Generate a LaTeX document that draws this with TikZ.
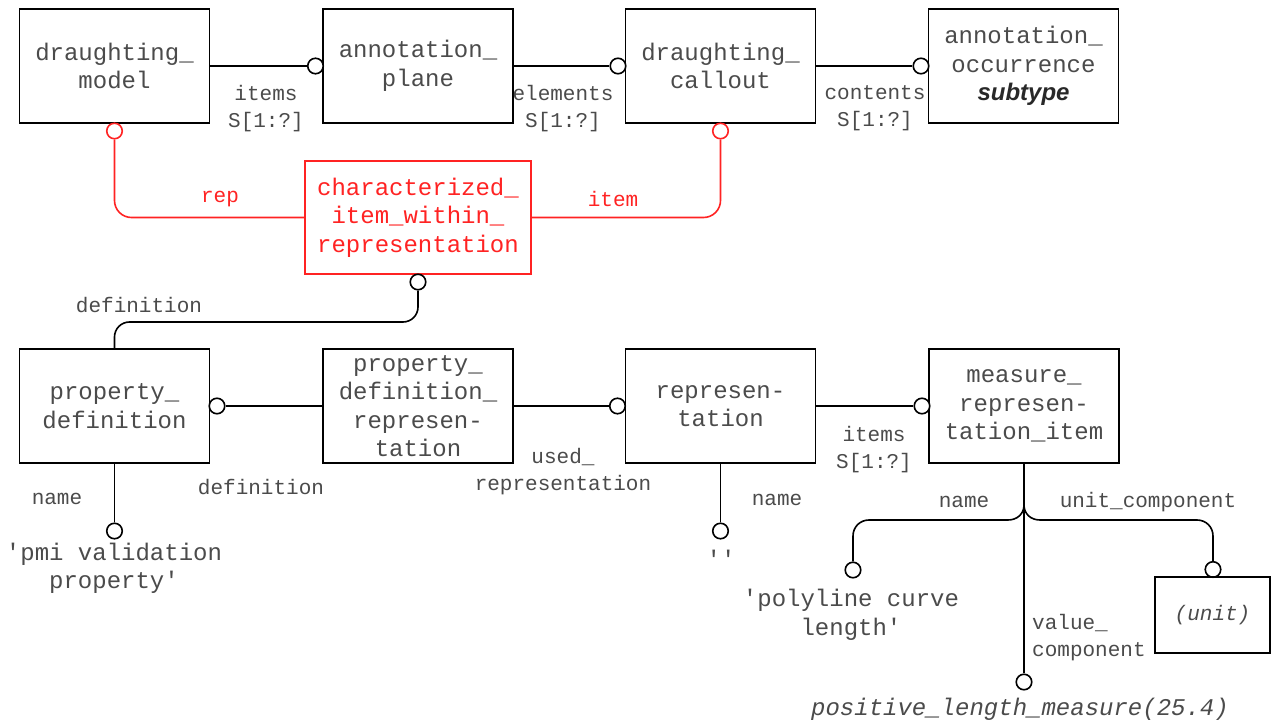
\documentclass[tikz,border=0pt]{standalone}
\usepackage{fontspec}
\setmonofont{Liberation Mono}
\newfontfamily\sansbi{Liberation Sans}
\definecolor{erred}{RGB}{255,35,35}
\definecolor{txt}{RGB}{75,75,75}
\definecolor{subc}{RGB}{40,40,40}
\newcommand\boxfont{\ttfamily\fontsize{24}{28.5}\selectfont}
\newcommand\lblfont{\ttfamily\fontsize{21}{27}\selectfont}
\newcommand\valfont{\ttfamily\fontsize{24}{28.5}\selectfont}
\tikzset{
  ent/.style={draw=black, line width=1.6pt, minimum width=190pt, minimum height=114pt, inner sep=0pt, align=center, text=txt, font=\boxfont},
  ring/.style={circle, draw, line width=1.6pt, fill=white, minimum size=15.5pt, inner sep=0pt},
  lnk/.style={line width=1.6pt},
  lbl/.style={align=center, text=txt, font=\lblfont, inner sep=0pt},
  val/.style={align=center, text=txt, font=\valfont, inner sep=0pt},
}
\begin{document}
\begin{tikzpicture}[x=1pt,y=-1pt]
\useasboundingbox[fill=white] (0,0) rectangle (1272,722);
% top row
\node[ent] (dm) at (114.5,66) {draughting\_\\model};
\node[ent] (ap) at (418,66) {annotation\_\\plane};
\node[ent] (dc) at (720.5,66) {draughting\_\\callout};
\node[ent] (ao) at (1023.5,66) {annotation\_\\occurrence\\{\sansbi\bfseries\itshape\color{subc}subtype}};
\node[ring] (r1) at (315.5,66) {};
\node[ring] (r2) at (618,66) {};
\node[ring] (r3) at (921,66) {};
\draw[lnk] (dm.east) -- (r1);
\draw[lnk] (ap.east) -- (r2);
\draw[lnk] (dc.east) -- (r3);
\node[lbl] (l1) at (266,108.5) {items\\S[1:?]};
\node[lbl] (l2) at (563,108.5) {elements\\S[1:?]};
\node[lbl] (l3) at (875,108.5) {contents\\S[1:?]};
% red
\node[ring, draw=erred] (rdm) at (114.5,131) {};
\node[ring, draw=erred] (rdc) at (720.5,131) {};
\node[ent, draw=erred, text=erred, line width=1.3pt, minimum width=226pt, minimum height=113pt] (cir) at (418,217.5) {characterized\_\\item\_within\_\\representation};
\draw[lnk, erred, rounded corners=17pt] (rdm) |- (cir.west);
\draw[lnk, erred, rounded corners=17pt] (cir.east) -| (rdc);
\node[lbl, text=erred] (lrep) at (220,199) {rep};
\node[lbl, text=erred] (litem) at (613,199) {item};
% bottom row
\node[ent] (pd) at (114.5,406) {property\_\\definition};
\node[ent] (pdr) at (418,406) {property\_\\definition\_\\represen-\\tation};
\node[ent] (rep) at (720.5,406) {represen-\\tation};
\node[ent] (mri) at (1024,406) {measure\_\\represen-\\tation\_item};
\node[ring] (rcir) at (418,282) {};
\coordinate (dj) at (266,322);
\draw[lnk, rounded corners=15pt] (rcir) |- (dj) -| (pd.north);
\node[lbl] (ldef) at (139,305) {definition};
\node[ring] (rpd) at (217,406) {};
\node[ring] (rrep) at (617.5,406) {};
\node[ring] (rmri) at (922,406) {};
\draw[lnk] (rpd) -- (pdr.west);
\draw[lnk] (pdr.east) -- (rrep);
\draw[lnk] (rep.east) -- (rmri);
\node[lbl] (ldef2) at (261,487) {definition};
\node[lbl] (lused) at (563,471.5) {used\_\\representation};
\node[lbl] (litems2) at (874,449.5) {items\\S[1:?]};
% names
\node[ring] (rpdn) at (114.5,531) {};
\draw[lnk] (pd.south) -- (rpdn);
\node[lbl] (lname1) at (57,499) {name};
\node[val] (vpmi) at (114,568.5) {'pmi validation\\property'};
\node[ring] (rrepn) at (720.5,531) {};
\draw[lnk] (rep.south) -- (rrepn);
\node[lbl] (lname2) at (777,500) {name};
\node[val] (vempty) at (721,559) {''};
% measure item
\coordinate (j) at (1024,505);
\node[ring] (rval) at (1024,682) {};
\draw[lnk] (mri.south) -- (rval);
\node[ring] (rnm) at (853,570) {};
\node[ring] (runit) at (1213,569.5) {};
\node[ent, minimum width=115pt, minimum height=76pt, font=\ttfamily\fontsize{21}{27}\selectfont] (unit) at (1212.5,615) {\itshape (unit)};
\draw[lnk] (j) .. controls (1024,514) and (1017,520) .. (1008,520) -- (869,520) .. controls (860,520) and (853,527) .. (853,536) -- (rnm);
\draw[lnk] (j) .. controls (1024,514) and (1031,520) .. (1040,520) -- (1197,520) .. controls (1206,520) and (1213,527) .. (1213,536) -- (runit);
\node[lbl] (lname3) at (964,502) {name};
\node[lbl] (lunit) at (1148,502) {unit\_component};
\node[lbl, align=left, anchor=west] (lvalc) at (1032,638) {value\_\\component};
\node[val] (vpoly) at (851,615) {'polyline curve\\length'};
\node[val] (vplm) at (1020,709) {\itshape positive\_length\_measure(25.4)};
\end{tikzpicture}
\end{document}
